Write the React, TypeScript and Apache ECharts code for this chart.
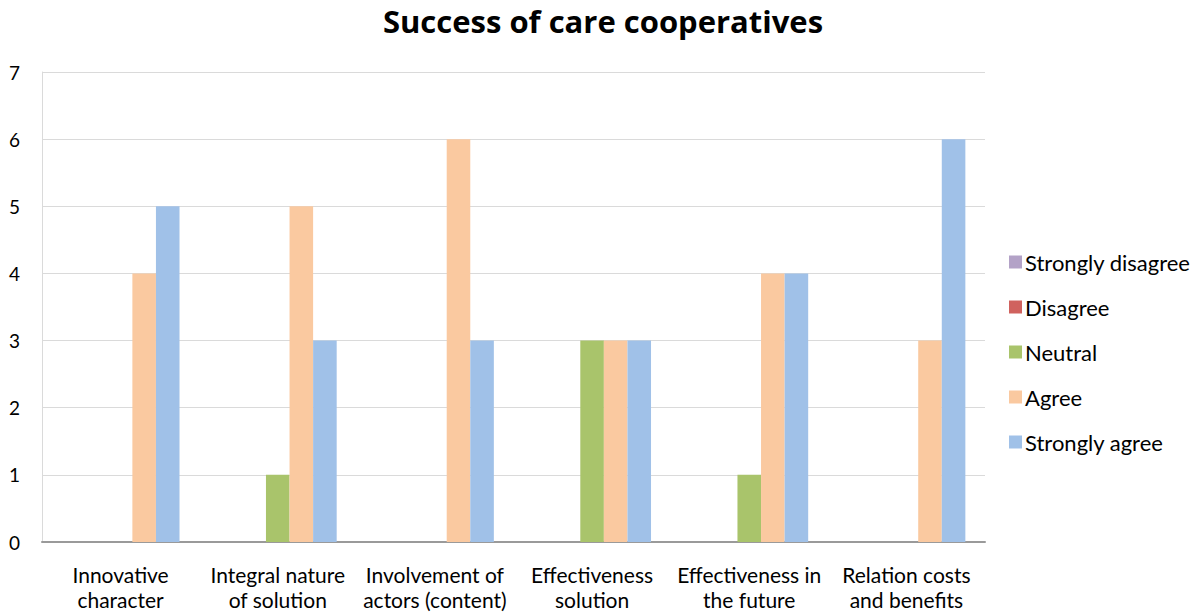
import React, { useEffect, useRef } from "react";
import * as echarts from "echarts";

const categories = [
  "Innovative\ncharacter",
  "Integral nature\nof solution",
  "Involvement of\nactors (content)",
  "Effectiveness\nsolution",
  "Effectiveness in\nthe future",
  "Relation costs\nand benefits",
];

const stronglyDisagree = [0, 0, 0, 0, 0, 0];
const disagree = [0, 0, 0, 0, 0, 0];
const neutral = [0, 1, 0, 3, 1, 0];
const agree = [4, 5, 6, 3, 4, 3];
const stronglyAgree = [5, 3, 3, 3, 4, 6];

const seriesDefs = [
  { name: "Strongly disagree", data: stronglyDisagree, color: "#B3A2C7" },
  { name: "Disagree", data: disagree, color: "#D0625E" },
  { name: "Neutral", data: neutral, color: "#A9C46B" },
  { name: "Agree", data: agree, color: "#FAC9A0" },
  { name: "Strongly agree", data: stronglyAgree, color: "#A0C1E8" },
];

const FONT = "Lato, 'Open Sans', sans-serif";

export default function App() {
  const ref = useRef<HTMLDivElement>(null);

  useEffect(() => {
    if (!ref.current) return;
    const chart = echarts.init(ref.current, null, { renderer: "svg" });
    chart.setOption({
      animation: false,
      backgroundColor: "#ffffff",
      textStyle: { fontFamily: FONT },
      title: {
        text: "Success of care cooperatives",
        left: 598,
        textAlign: "center",
        top: 0,
        textStyle: { fontFamily: "'Open Sans', sans-serif", fontSize: 31, fontWeight: "bold", color: "#000" },
      },
      legend: {
        orient: "vertical",
        left: 1004,
        top: 246,
        itemWidth: 13,
        itemHeight: 13,
        itemGap: 23,
        icon: "rect",
        textStyle: { fontFamily: FONT, fontSize: 22, color: "#000", padding: [0, 0, 0, -2] },
        data: seriesDefs.map((s) => s.name),
      },
      grid: { left: 42, right: 215, top: 72, bottom: 70, containLabel: false },
      xAxis: {
        type: "category",
        data: categories,
        axisLine: { show: true, lineStyle: { color: "#9A9A9A", width: 2 } },
        axisTick: { show: false },
        axisLabel: {
          fontFamily: FONT,
          fontSize: 21,
          color: "#000",
          lineHeight: 25,
          margin: 20,
          interval: 0,
        },
      },
      yAxis: {
        type: "value",
        min: 0,
        max: 7,
        interval: 1,
        axisLine: { show: true, lineStyle: { color: "#DADADA", width: 1 } },
        axisTick: { show: false },
        splitLine: { lineStyle: { color: "#DADADA", width: 1 } },
        axisLabel: { fontFamily: FONT, fontSize: 19, color: "#000", margin: 22 },
      },
      series: seriesDefs.map((s) => ({
        name: s.name,
        type: "bar",
        data: s.data,
        barGap: "0%",
        barCategoryGap: "25%",
        itemStyle: { color: s.color },
      })),
    });
    return () => chart.dispose();
  }, []);

  return <div ref={ref} style={{ width: 1200, height: 612, position: "absolute", left: 0, top: 0 }} />;
}
